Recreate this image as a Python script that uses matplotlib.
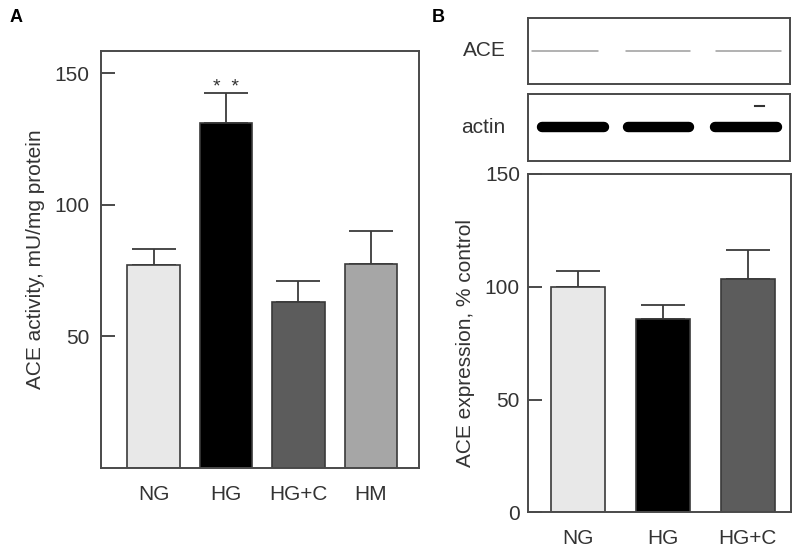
import numpy as np
import matplotlib
matplotlib.use('Agg')
import matplotlib.pyplot as plt

plt.rcParams['font.family'] = ['Liberation Sans', 'DejaVu Sans']

# Panel A: ACE activity
groups_a = ['NG', 'HG', 'HG+C', 'HM']
activity = [77, 131, 63, 77.5]
activity_err = [6.2, 11.5, 8.2, 12.7]
colors_a = ['#e8e8e8', '#000000', '#5c5c5c', '#a6a6a6']

# Panel B: ACE expression
groups_b = ['NG', 'HG', 'HG+C']
expression = [100, 85.6, 103.4]
expression_err = [6.9, 6.2, 12.9]
colors_b = ['#e8e8e8', '#000000', '#5c5c5c']

# blot lanes (relative band offsets / widths)
ace_band_offset = [-0.14, -0.05, 0.02]
ace_band_width = [0.78, 0.76, 0.76]
actin_band_offset = [-0.05, -0.04, -0.01]
actin_band_width = [0.83, 0.82, 0.83]

edge = '#3a3a3a'
spine_c = '#4a4a4a'
txt_c = '#333333'
fs = 15

fig = plt.figure(figsize=(8, 5.54), dpi=100)


def style_axes(ax):
    for s in ax.spines.values():
        s.set_color(spine_c)
        s.set_linewidth(1.4)


# ---- Panel A
axA = fig.add_axes([0.1259, 0.1552, 0.398, 0.7527])
xa = np.arange(len(groups_a))
axA.bar(xa, activity, width=0.73, color=colors_a, edgecolor=edge, linewidth=1.2, zorder=2)
axA.errorbar(xa, activity, yerr=[np.zeros(len(xa)), activity_err], fmt='none',
             ecolor=edge, elinewidth=1.3, capsize=16, capthick=1.3, zorder=1)
axA.text(xa[1], activity[1] + activity_err[1] - 1.2, '*  *', ha='center', va='bottom',
         fontsize=14, color=txt_c)
axA.set_xlim(-0.73, 3.665)
axA.set_ylim(0, 158.5)
axA.set_yticks([50, 100, 150])
axA.set_xticks(xa)
axA.set_xticklabels(groups_a)
axA.tick_params(axis='y', direction='in', length=10, width=1.4, color=spine_c,
                labelsize=fs, labelcolor=txt_c, pad=8)
axA.tick_params(axis='x', length=0, labelsize=fs, labelcolor=txt_c, pad=12)
axA.set_ylabel('ACE activity, mU/mg protein', fontsize=fs, color=txt_c, labelpad=7)
style_axes(axA)
fig.text(0.012, 0.968, 'A', fontsize=13, fontweight='bold', va='center')

# ---- Panel B bar chart
axB = fig.add_axes([0.6604, 0.0753, 0.3284, 0.6107])
xb = np.arange(len(groups_b))
axB.bar(xb, expression, width=0.635, color=colors_b, edgecolor=edge, linewidth=1.2, zorder=2)
axB.errorbar(xb, expression, yerr=[np.zeros(len(xb)), expression_err], fmt='none',
             ecolor=edge, elinewidth=1.3, capsize=16, capthick=1.3, zorder=1)
axB.set_xlim(-0.585, 2.508)
axB.set_ylim(0, 150)
axB.set_yticks([0, 50, 100, 150])
axB.set_xticks(xb)
axB.set_xticklabels(groups_b)
axB.tick_params(axis='y', direction='in', length=10, width=1.4, color=spine_c,
                labelsize=fs, labelcolor=txt_c, pad=6)
axB.tick_params(axis='x', length=0, labelsize=fs, labelcolor=txt_c, pad=12)
axB.set_ylabel('ACE expression, % control', fontsize=fs, color=txt_c, labelpad=7)
style_axes(axB)
fig.text(0.540, 0.968, 'B', fontsize=13, fontweight='bold', va='center')

# ---- Blots
axACE = fig.add_axes([0.6596, 0.8478, 0.3279, 0.1191])
axActin = fig.add_axes([0.6596, 0.710, 0.3279, 0.1199])
for ax in (axACE, axActin):
    ax.set_xlim(-0.585, 2.508)
    ax.set_ylim(0, 1)
    ax.set_xticks([])
    ax.set_yticks([])
    style_axes(ax)

for i in range(len(groups_b)):
    c = xb[i] + ace_band_offset[i]
    w = ace_band_width[i]
    axACE.plot([c - w / 2, c + w / 2], [0.5, 0.5], color='#9c9c9c', lw=1.1,
               solid_capstyle='round')
    c = xb[i] + actin_band_offset[i]
    w = actin_band_width[i]
    axActin.plot([c - w / 2 + 0.05, c + w / 2 - 0.05], [0.5, 0.5], color='#000000', lw=7.5,
                 solid_capstyle='round')
axActin.plot([2.1, 2.2], [0.82, 0.82], color='#333333', lw=1.5)

fig.text(0.606, 0.909, 'ACE', fontsize=fs, color=txt_c, ha='center', va='center')
fig.text(0.604, 0.770, 'actin', fontsize=fs, color=txt_c, ha='center', va='center')

fig.savefig('out.png', dpi=100)
